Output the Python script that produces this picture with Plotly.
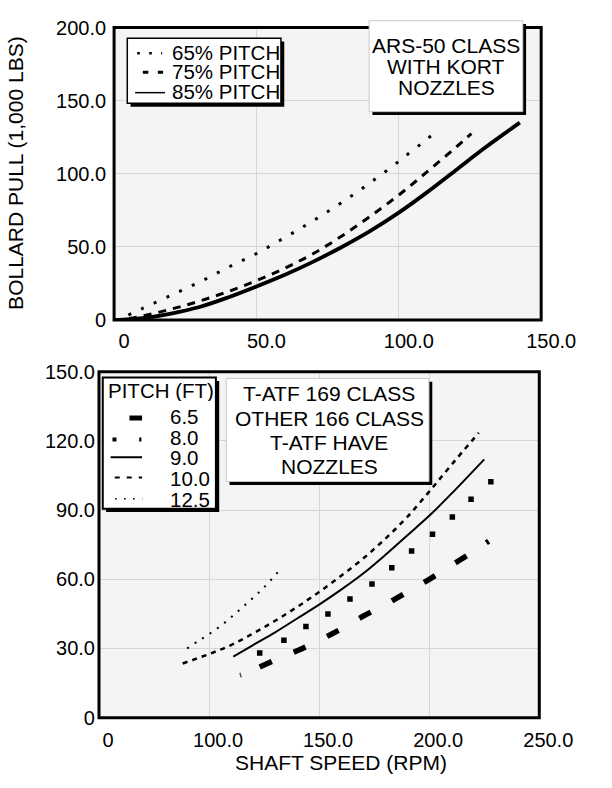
import plotly.graph_objects as go

W, H = 612, 788
FONT = "Liberation Sans, Arial, Helvetica, sans-serif"

# ---------------- Top chart: ARS-50 class (shaft speed RPM vs bollard pull, 1,000 lbs)
p65_rpm = [5, 10, 20, 30, 40, 50, 60, 70, 80, 90, 100, 104.5, 108.5, 112]
p65_pull = [3.5, 8, 17, 26, 36, 45.5, 56.5, 68, 80.5, 94, 108.5, 115.5, 121.5, 127]
p75_rpm = [0, 5, 10, 20, 30, 40, 50, 60, 70, 80, 90, 100, 110, 120, 125.5]
p75_pull = [0, 1, 2.8, 7.5, 13, 19.5, 27, 35.5, 45.5, 57.5, 71, 85.5, 101.5, 118, 127.5]
p85_rpm = [0, 10, 20, 30, 40, 50, 60, 70, 80, 90, 100, 110, 120, 130, 142.5]
p85_pull = [0, 1.3, 4.5, 9, 15.5, 23, 31, 40, 50, 61, 73.5, 87.5, 102.5, 117.5, 135]

top_x_ticks = [0, 50, 100, 150]
top_x_text = ["0", "50.0", "100.0", "150.0"]
top_y_ticks = [0, 50, 100, 150, 200]
top_y_text = ["0", "50.0", "100.0", "150.0", "200.0"]
top_legend = ["65% PITCH", "75% PITCH", "85% PITCH"]
top_note = ["ARS-50 CLASS", "WITH KORT", "NOZZLES"]

# ---------------- Bottom chart: T-ATF 166 / 169 classes, by pitch (ft)
ft65_rpm = [123, 130, 140, 150, 160, 170, 180, 190, 200, 210, 220, 227]
ft65_pull = [22, 25, 29, 33.5, 38.5, 44, 49, 54.5, 60, 66, 72, 76.5]
ft80_rpm = [123, 134, 144, 154, 164, 174, 183, 192, 201.5, 210.5, 219, 228]
ft80_pull = [28, 33.6, 39.5, 45, 51.5, 58, 65, 72.3, 79.5, 87, 94.7, 102.3]
ft90_rpm = [111, 120, 130, 140, 150, 160, 170, 180, 190, 200, 210, 225]
ft90_pull = [26.5, 31.5, 37, 43, 49, 55.5, 62.5, 70.5, 79, 87.5, 97, 112]
ft100_rpm = [88, 100, 110, 120, 130, 140, 150, 160, 170, 180, 190, 200, 210, 222.5]
ft100_pull = [23.5, 27.6, 31.5, 36.5, 42, 48, 54.5, 61.5, 69, 77.5, 87, 98, 109.5, 123.5]
ft125_rpm = [90, 95, 100, 105, 110, 115, 120, 125, 133]
ft125_pull = [30, 33.2, 36.2, 39.6, 43.5, 47.7, 52, 56.5, 65]
stray_rpm = [114, 114.6]
stray_pull = [19.5, 17.5]

bot_x_ticks = [50, 100, 150, 200, 250]
bot_x_text = ["0", "100.0", "150.0", "200.0", "250.0"]
bot_y_ticks = [0, 30, 60, 90, 120, 150]
bot_y_text = ["0", "30.0", "60.0", "90.0", "120.0", "150.0"]
bot_legend_title = "PITCH (FT)"
bot_legend = ["6.5", "8.0", "9.0", "10.0", "12.5"]
bot_note = ["T-ATF 169 CLASS", "OTHER 166 CLASS", "T-ATF HAVE", "NOZZLES"]


def px(x):
    return x / W


def py(y):
    return 1 - y / H


fig = go.Figure()
SM = 1.0

# top chart traces
fig.add_trace(go.Scatter(x=p65_rpm, y=p65_pull, mode="lines", xaxis="x", yaxis="y",
                         line=dict(color="black", width=3, dash="3px,11px", shape="spline", smoothing=SM)))
fig.add_trace(go.Scatter(x=p75_rpm, y=p75_pull, mode="lines", xaxis="x", yaxis="y",
                         line=dict(color="black", width=3, dash="8px,7px", shape="spline", smoothing=SM)))
fig.add_trace(go.Scatter(x=p85_rpm, y=p85_pull, mode="lines", xaxis="x", yaxis="y",
                         line=dict(color="black", width=3.8, shape="spline", smoothing=SM)))

# bottom chart traces
fig.add_trace(go.Scatter(x=ft65_rpm, y=ft65_pull, mode="lines", xaxis="x2", yaxis="y2",
                         line=dict(color="black", width=5.5, dash="13px,24px", shape="spline", smoothing=SM)))
fig.add_trace(go.Scatter(x=ft80_rpm, y=ft80_pull, mode="markers", xaxis="x2", yaxis="y2",
                         marker=dict(color="black", size=5.5, symbol="square")))
fig.add_trace(go.Scatter(x=ft90_rpm, y=ft90_pull, mode="lines", xaxis="x2", yaxis="y2",
                         line=dict(color="black", width=2, shape="spline", smoothing=SM)))
fig.add_trace(go.Scatter(x=ft100_rpm, y=ft100_pull, mode="lines", xaxis="x2", yaxis="y2",
                         line=dict(color="black", width=2.5, dash="5px,5px", shape="spline", smoothing=SM)))
fig.add_trace(go.Scatter(x=ft125_rpm, y=ft125_pull, mode="lines", xaxis="x2", yaxis="y2",
                         line=dict(color="black", width=2, dash="2px,7px", shape="spline", smoothing=SM)))
fig.add_trace(go.Scatter(x=stray_rpm, y=stray_pull, mode="lines", xaxis="x2", yaxis="y2",
                         line=dict(color="#444", width=1.3)))

tickfont = dict(family=FONT, size=20, color="black")
axis_common = dict(showline=False, zeroline=False, showgrid=True, gridcolor="#d6d6d6",
                   gridwidth=1, ticks="", tickfont=tickfont, tickmode="array", fixedrange=True)

shapes = []
# plot borders
for xr, yr in (("x domain", "y domain"), ("x2 domain", "y2 domain")):
    shapes.append(dict(type="rect", xref=xr, yref=yr, x0=0, x1=1, y0=0, y1=1,
                       line=dict(color="black", width=3), fillcolor="rgba(0,0,0,0)"))


def box(x0, y0, x1, y1, sh, border, bw):
    shapes.append(dict(type="rect", xref="paper", yref="paper",
                       x0=px(x0 + sh), x1=px(x1 + sh), y0=py(y1 + sh), y1=py(y0 + sh),
                       line=dict(width=0), fillcolor="black"))
    shapes.append(dict(type="rect", xref="paper", yref="paper",
                       x0=px(x0), x1=px(x1), y0=py(y1), y1=py(y0),
                       line=dict(color=border, width=bw), fillcolor="white"))


def seg(x0, x1, y, width, dash="solid"):
    shapes.append(dict(type="line", xref="paper", yref="paper",
                       x0=px(x0), x1=px(x1), y0=py(y), y1=py(y),
                       line=dict(color="black", width=width, dash=dash)))


# top legend box and samples
box(135, 28, 298, 95, 3.5, "black", 1.5)
seg(145.5, 172, 43.5, 2.6, "2.6px,9.4px")
seg(151.5, 173, 63, 3, "5.5px,9.5px")
seg(143.3, 175, 84, 1.5)
# top note box
box(391.5, 10, 554.5, 103.5, 3.5, "#c8c8c8", 1)

# bottom legend box and samples
box(109, 377, 229, 512, 3.5, "black", 2)
seg(137.3, 150.7, 418.7, 5)
seg(119.3, 150, 440.7, 4, "4px,22.7px")
seg(117.3, 150.7, 459, 2)
seg(121.7, 150.7, 480, 2, "5px,7px")
seg(122, 151, 501.7, 1.6, "1.6px,7.4px")
# bottom note box
box(240, 378, 455, 484, 3.5, "#c8c8c8", 1)

annotations = []


def ann(text, x, y, size, xanchor="center", angle=0, height=None):
    a = dict(text=text, x=px(x), y=py(y), xref="paper", yref="paper",
             showarrow=False, xanchor=xanchor, yanchor="middle",
             textangle=angle, borderpad=0, borderwidth=0,
             font=dict(family=FONT, size=size, color="black"))
    if height is not None:
        a["height"] = height
    annotations.append(a)


for t, yy in zip(top_legend, [42.2, 62.2, 82.5]):
    ann(t, 182, yy, 20.5, "left", height=19)
for t, yy in zip(top_note, [35.8, 57.5, 79.2]):
    ann(t, 473.3, yy, 21, height=21)
ann(bot_legend_title, 170.8, 390.3, 20.5, height=21)
for t, yy in zip(bot_legend, [416.7, 438.3, 459.3, 480.3, 502.2]):
    ann(t, 180.5, yy, 20.5, "left", height=20)
for t, yy in zip(bot_note, [393.3, 418.3, 443.8, 468.3]):
    ann(t, 349, yy, 21, height=24)
ann("BOLLARD PULL (1,000 LBS)", 17, 166.5, 21, angle=-90)
ann("SHAFT SPEED (RPM)", 361.5, 773.5, 21)

fig.update_layout(
    width=W, height=H, autosize=False,
    margin=dict(l=0, r=0, t=0, b=0, pad=0),
    paper_bgcolor="white",
    plot_bgcolor="#f4f4f4",
    showlegend=False,
    hovermode=False,
    xaxis=dict(domain=[121 / W, 574 / W], range=[0, 150], anchor="y",
               tickvals=top_x_ticks, ticktext=top_x_text,
               ticklabelstandoff=7, ticklabelshift=10, **axis_common),
    yaxis=dict(domain=[1 - 318 / H, 1 - 17 / H], range=[0, 200], anchor="x",
               tickvals=top_y_ticks, ticktext=top_y_text,
               ticklabelstandoff=7, **axis_common),
    xaxis2=dict(domain=[105 / W, 572 / W], range=[50, 250], anchor="y2",
                tickvals=bot_x_ticks, ticktext=bot_x_text,
                ticklabelstandoff=8, ticklabelshift=9, **axis_common),
    yaxis2=dict(domain=[1 - 727 / H, 1 - 371 / H], range=[0, 150], anchor="x2",
                tickvals=bot_y_ticks, ticktext=bot_y_text,
                ticklabelstandoff=3, **axis_common),
    shapes=shapes,
    annotations=annotations,
)

fig.write_html("out.html", config={"displayModeBar": False, "staticPlot": True},
               post_script="document.body.style.margin='0px';")
